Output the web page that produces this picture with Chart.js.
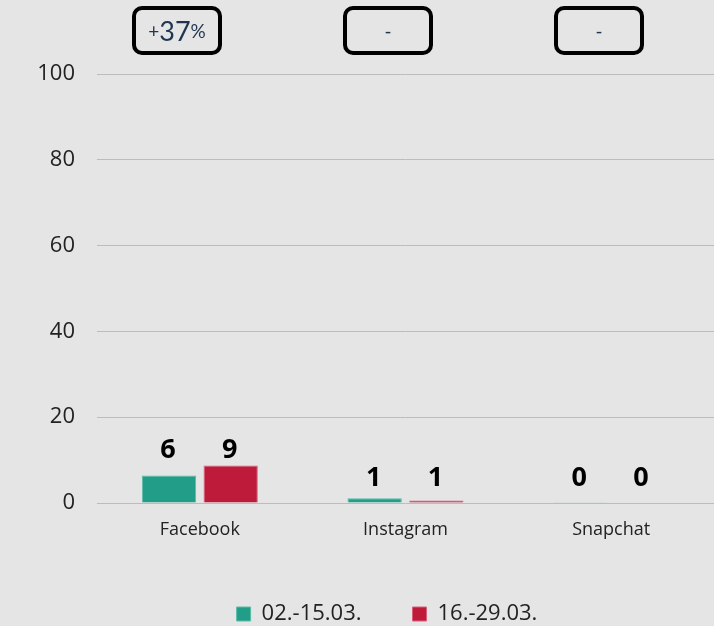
<!DOCTYPE html>
<html>
<head>
<meta charset="utf-8">
<script src="https://cdn.jsdelivr.net/npm/chart.js@4.4.1/dist/chart.umd.min.js"></script>
<style>
  body { margin: 0; background: #e5e5e5; }
  #wrap { position: relative; width: 714px; height: 626px; }
  .badge {
    position: absolute; top: 6px; width: 90px; height: 49px;
    box-sizing: border-box; border: 4px solid #000; border-radius: 10px;
    display: flex; align-items: center; justify-content: center;
    font-family: Lato, sans-serif; color: #1f3550; font-size: 19px;
  }
  .badge .big { font-size: 27px; }
</style>
</head>
<body>
<div id="wrap">
  <canvas id="chart" width="714" height="626"></canvas>
</div>
<script>
const categories = ['Facebook', 'Instagram', 'Snapchat'];
const seriesNames = ['02.-15.03.', '16.-29.03.'];
const period1 = [6.4, 1.1, 0.2];
const period2 = [8.75, 0.6, 0];
const changeLabels = ['+37%', '-', '-'];
const yTicks = [0, 20, 40, 60, 80, 100];

const colors = ['#229e88', '#be1a3a'];
const borders = ['#5cbba9', '#d9607a'];

// badges above each category
const badgeLeft = [132, 343, 554];
changeLabels.forEach((txt, i) => {
  const div = document.createElement('div');
  div.className = 'badge';
  div.style.left = badgeLeft[i] + 'px';
  const m = txt.match(/^([+-])(\d+)(%)$/);
  if (m) {
    div.innerHTML = `<span>${m[1]}</span><span class="big">${m[2]}</span><span>${m[3]}</span>`;
  } else {
    div.textContent = txt;
  }
  document.getElementById('wrap').appendChild(div);
});

// value labels above bar pairs
const barLabels = {
  id: 'barLabels',
  afterDatasetsDraw(chart) {
    const ctx = chart.ctx;
    const zeroY = chart.scales.y.getPixelForValue(0);
    ctx.save();
    ctx.font = 'bold 27px "Open Sans", sans-serif';
    ctx.fillStyle = '#000';
    ctx.textAlign = 'center';
    ctx.textBaseline = 'alphabetic';
    categories.forEach((c, i) => {
      const bars = chart.data.datasets.map((d, di) => chart.getDatasetMeta(di).data[i]);
      const top = Math.min(...bars.map(b => b.y));
      const y = Math.min(top - 7, zeroY - 17);
      bars.forEach((b, di) => {
        const v = chart.data.datasets[di].data[i];
        ctx.fillText(Math.round(v).toString(), b.x - 1, y);
      });
    });
    ctx.restore();
  }
};

// nudge the legend a bit to the right, like the original
const legendShift = {
  id: 'legendShift',
  beforeDraw(chart) {
    chart.legend.left += 15;
    chart.legend.right += 15;
  }
};

const ctx = document.getElementById('chart').getContext('2d');
new Chart(ctx, {
  type: 'bar',
  data: {
    labels: categories,
    datasets: [
      { label: seriesNames[0], data: period1, backgroundColor: colors[0], borderColor: borders[0], borderWidth: 1 },
      { label: seriesNames[1], data: period2, backgroundColor: colors[1], borderColor: borders[1], borderWidth: 1 }
    ]
  },
  options: {
    responsive: false,
    animation: false,
    layout: { padding: { top: 74, left: 30, right: 0, bottom: -9 } },
    datasets: { bar: { categoryPercentage: 0.6, barPercentage: 0.88 } },
    scales: {
      x: {
        grid: { display: false },
        border: { display: false },
        ticks: { color: '#222', padding: 8, font: { family: '"Open Sans", sans-serif', size: 18 } },
        afterFit: (scale) => { scale.height = 49; }
      },
      y: {
        min: 0, max: 100,
        afterBuildTicks: (scale) => { scale.ticks = yTicks.map(v => ({ value: v })); },
        grid: { color: '#bcbcbc', drawTicks: false },
        border: { display: false },
        ticks: { color: '#222', padding: 22, font: { family: '"Open Sans", sans-serif', size: 22 } },
        afterFit: (scale) => { scale.width = 97 - 30; }
      }
    },
    plugins: {
      tooltip: { enabled: false },
      legend: {
        position: 'bottom',
        labels: {
          boxWidth: 14, boxHeight: 14, padding: 51, color: '#222',
          font: { family: '"Open Sans", sans-serif', size: 22 }
        }
      }
    }
  },
  plugins: [barLabels, legendShift]
});
</script>
</body>
</html>
